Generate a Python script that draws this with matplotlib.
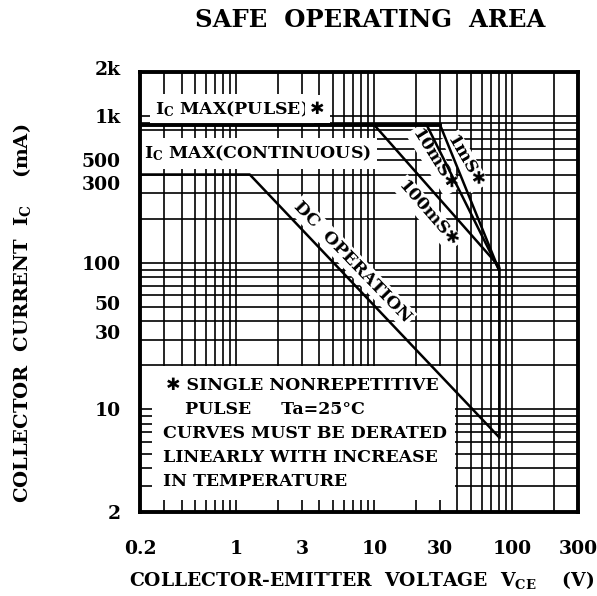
import numpy as np
import matplotlib
matplotlib.use("Agg")
import matplotlib.pyplot as plt
from matplotlib.ticker import FixedLocator, FixedFormatter, LogLocator, NullFormatter
from matplotlib.patches import Rectangle
from matplotlib.transforms import ScaledTranslation

plt.rcParams['font.family'] = ['DejaVu Serif', 'DejaVu Sans']
plt.rcParams['font.weight'] = 'bold'
plt.rcParams['mathtext.default'] = 'regular'

# axis ticks
x_ticks = [0.2, 1, 3, 10, 30, 100, 300]
x_labels = ["0.2", "1", "3", "10", "30", "100", "300"]
y_ticks = [2, 10, 30, 50, 100, 300, 500, 1000, 2000]
y_labels = ["2", "10", "30", "50", "100", "300", "500", "1k", "2k"]

# SOA boundaries (V, mA)
vce_pulse_max = [0.2, 30]
ic_pulse_max = [870, 870]
vce_dc = [0.2, 1.25, 80]
ic_dc = [400, 400, 6.5]
vce_100ms = [10, 80]
ic_100ms = [870, 95]
vce_10ms = [24, 80]
ic_10ms = [870, 90]
vce_1ms = [30, 80]
ic_1ms = [870, 90]
vce_ceo = [80, 80]
ic_ceo = [92, 6.5]

fig = plt.figure(figsize=(5.97, 5.96), dpi=100)
ax = fig.add_axes([140 / 597, 1 - 512 / 596, 438 / 597, 440 / 596])
ax.set_xscale('log')
ax.set_yscale('log')
ax.set_xlim(0.2, 300)
ax.set_ylim(2, 2000)

ax.xaxis.set_major_locator(FixedLocator(x_ticks))
ax.xaxis.set_major_formatter(FixedFormatter(x_labels))
ax.yaxis.set_major_locator(FixedLocator(y_ticks))
ax.yaxis.set_major_formatter(FixedFormatter(y_labels))
for a in (ax.xaxis, ax.yaxis):
    a.set_minor_locator(LogLocator(base=10, subs=np.arange(1, 10), numticks=30))
    a.set_minor_formatter(NullFormatter())
ax.tick_params(which='both', length=0)
ax.tick_params(axis='x', pad=20, labelsize=13.5)
ax.tick_params(axis='y', pad=14, labelsize=13.5)
ax.set_axisbelow(True)
ax.grid(True, which='both', color='black', lw=1.2)
for s in ax.spines.values():
    s.set_linewidth(2.8)

# the printed sheet has some y labels sitting a little above their lines
lift = {"300": 0.10, "30": 0.08, "50": 0.04, "2k": 0.04}
for lab in ax.get_yticklabels():
    dy = lift.get(lab.get_text(), 0)
    if dy:
        lab.set_transform(lab.get_transform() + ScaledTranslation(0, dy, fig.dpi_scale_trans))

# white note box covering the grid
ax.add_patch(Rectangle((0.027, 0.027), 0.692, 0.305, transform=ax.transAxes,
                       facecolor='white', edgecolor='none', zorder=1))

# curves
ax.plot(vce_pulse_max, ic_pulse_max, color='black', lw=2.8, zorder=3)
ax.plot(vce_dc, ic_dc, color='black', lw=1.8, zorder=3)
ax.plot(vce_100ms, ic_100ms, color='black', lw=1.8, zorder=3)
ax.plot(vce_10ms, ic_10ms, color='black', lw=1.8, zorder=3)
ax.plot(vce_1ms, ic_1ms, color='black', lw=1.8, zorder=3)
ax.plot(vce_ceo, ic_ceo, color='black', lw=1.8, zorder=3)

wbox = dict(facecolor='white', edgecolor='none', pad=1.5)
t = ax.text(0.035, 0.915, "I$_{C}$ MAX(PULSE)", transform=ax.transAxes,
            fontsize=12.5, ha='left', va='center', zorder=2,
            bbox=dict(facecolor='white', edgecolor='none', pad=4))
ax.annotate("\u2731", xy=(1, 0.5), xycoords=t, xytext=(1, 0),
            textcoords='offset points', fontsize=12.5, ha='left', va='center',
            zorder=2, bbox=dict(facecolor='white', edgecolor='none', pad=4))
ax.text(0.01, 0.815, "I$_{C}$ MAX(CONTINUOUS)", transform=ax.transAxes,
        fontsize=12.5, ha='left', va='center', zorder=2,
        bbox=dict(facecolor='white', edgecolor='none', pad=4))

ax.text(0.485, 0.568, "DC  OPERATION", transform=ax.transAxes, fontsize=12.5,
        rotation=-46, ha='center', va='center', zorder=2, bbox=wbox,
        rotation_mode='anchor')
ax.text(0.657, 0.678, "100mS\u2731", transform=ax.transAxes, fontsize=12.5,
        rotation=-49, ha='center', va='center', zorder=2, bbox=wbox,
        rotation_mode='anchor')
ax.text(0.671, 0.80, "10mS\u2731", transform=ax.transAxes, fontsize=12.5,
        rotation=-58, ha='center', va='center', zorder=2, bbox=wbox,
        rotation_mode='anchor')
ax.text(0.742, 0.797, "1mS\u2731", transform=ax.transAxes, fontsize=12.5,
        rotation=-60, ha='center', va='center', zorder=2, bbox=wbox,
        rotation_mode='anchor')

# note lines
note = [
    (0.06, "\u2731 SINGLE NONREPETITIVE"),
    (0.103, "PULSE     Ta=25\u00b0C"),
    (0.052, "CURVES MUST BE DERATED"),
    (0.052, "LINEARLY WITH INCREASE"),
    (0.052, "IN TEMPERATURE"),
]
for i, (xl, line) in enumerate(note):
    ax.text(xl, 0.288 - i * 0.0545, line, transform=ax.transAxes, fontsize=12.5,
            ha='left', va='center', zorder=2)

fig.text(370 / 597, 1 - 20 / 596, "SAFE  OPERATING  AREA", fontsize=17.5,
         ha='center', va='center')
fig.text(362 / 597, 1 - 580 / 596, "COLLECTOR-EMITTER  VOLTAGE  V$_{CE}$    (V)",
         fontsize=13.5, ha='center', va='center')
fig.text(22 / 597, 1 - 313 / 596, "COLLECTOR  CURRENT  I$_{C}$    (mA)",
         fontsize=14, ha='center', va='center', rotation=90)

fig.savefig("out.png", dpi=100, facecolor='white')
